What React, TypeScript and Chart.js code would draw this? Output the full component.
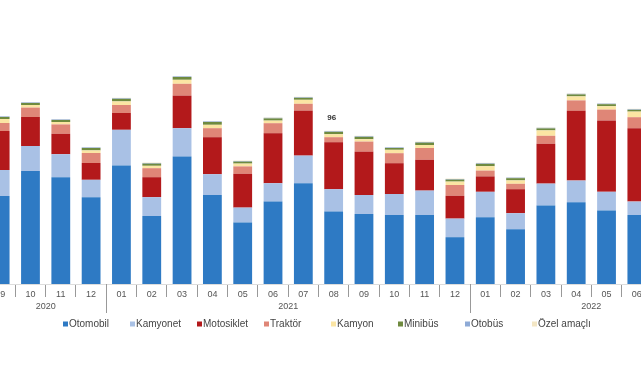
import React, { useEffect, useRef } from "react";
import { Chart, registerables } from "chart.js";

Chart.register(...registerables);

// Months shown (Sep 2020 – Jun 2022)
const months = [
  "09", "10", "11", "12",
  "01", "02", "03", "04", "05", "06", "07", "08", "09", "10", "11", "12",
  "01", "02", "03", "04", "05", "06",
];

// Year groups: first category index and number of months in the group
const yearLabels = ["2020", "2021", "2022"];
const yearStarts = [0, 4, 16];
const yearCounts = [4, 12, 8];

// Series values (thousand vehicles, estimated)
const otomobil = [44, 56.5, 53.4, 43.4, 59.2, 34, 63.7, 44.5, 30.7, 41.2, 50.4, 36.2, 35, 34.5, 34.5, 23.4, 33.4, 27.4, 39.2, 40.9, 36.7, 34.5];
const kamyonet = [13, 12.5, 11.5, 8.7, 17.9, 9.4, 14.2, 10.4, 7.5, 9.2, 13.8, 11.2, 9.5, 10.5, 12.2, 9.3, 12.7, 8, 11, 10.8, 9.4, 6.7];
const motosiklet = [19.5, 14.5, 10.2, 8.4, 8.4, 10, 16.3, 18.5, 16.9, 25, 22.5, 23.5, 21.7, 15.4, 15.4, 11.4, 7.7, 12, 19.9, 34.9, 35.7, 36.7];
const traktor = [4, 4.7, 4.7, 5, 4, 4.5, 5.9, 4.5, 3.7, 5, 3.4, 2.5, 5, 5, 5.9, 5.4, 2.9, 2.7, 4, 5.2, 5.4, 5.5];
const kamyon = [2, 1.3, 1.2, 1.3, 1.8, 1.2, 2, 1.7, 1.4, 1.3, 2, 1.5, 1.2, 1.7, 1.5, 1.7, 2.2, 1.7, 2.7, 2, 1.7, 2.8];
const minibus = [1, 1, 1, 1.2, 1.3, 1.1, 1.4, 1.4, 1, 1.1, 1, 1.2, 1.2, 0.9, 1.2, 1, 1.2, 1.1, 1, 1, 1, 0.9];
const otobus = [0.3, 0.3, 0.3, 0.3, 0.3, 0.3, 0.3, 0.3, 0.3, 0.3, 0.3, 0.3, 0.3, 0.3, 0.3, 0.3, 0.3, 0.3, 0.3, 0.3, 0.3, 0.3];
const ozelAmacli = [0.2, 0.2, 0.2, 0.2, 0.2, 0.2, 0.2, 0.2, 0.2, 0.2, 0.2, 0.2, 0.2, 0.2, 0.2, 0.2, 0.2, 0.2, 0.2, 0.2, 0.2, 0.2];

const seriesNames = ["Otomobil", "Kamyonet", "Motosiklet", "Traktör", "Kamyon", "Minibüs", "Otobüs", "Özel amaçlı"];
const seriesData = [otomobil, kamyonet, motosiklet, traktor, kamyon, minibus, otobus, ozelAmacli];
const seriesColors = ["#2e7ac4", "#a9c1e5", "#b3191b", "#df8677", "#fbe5a3", "#6f8a3f", "#8eaad6", "#f3e6c4"];

// Stray data label visible in the picture
const noteIndex = 11;
const noteText = "96";

const FONT = "'Liberation Sans', Arial, sans-serif";

const extrasPlugin = {
  id: "extras",
  afterDraw(chart: any) {
    const ctx = chart.ctx;
    const x = chart.scales.x;
    const area = chart.chartArea;
    const step = x.getPixelForValue(1) - x.getPixelForValue(0);
    ctx.save();

    // year separators
    ctx.strokeStyle = "#999";
    ctx.lineWidth = 1;
    for (let g = 1; g < yearStarts.length; g++) {
      const s = yearStarts[g];
      const px = Math.round((x.getPixelForValue(s - 1) + x.getPixelForValue(s)) / 2) + 0.5;
      ctx.beginPath();
      ctx.moveTo(px, area.bottom);
      ctx.lineTo(px, area.bottom + 29);
      ctx.stroke();
    }

    // year labels
    ctx.fillStyle = "#555";
    ctx.font = `9px ${FONT}`;
    ctx.textAlign = "center";
    ctx.textBaseline = "middle";
    for (let g = 0; g < yearLabels.length; g++) {
      const cx = x.getPixelForValue(yearStarts[g]) + ((yearCounts[g] - 1) * step) / 2;
      ctx.fillText(yearLabels[g], cx, area.bottom + 23);
    }

    // note label above bar
    const lastMeta = chart.getDatasetMeta(chart.data.datasets.length - 1);
    const bar = lastMeta.data[noteIndex];
    if (bar) {
      ctx.fillStyle = "#333";
      ctx.font = `bold 8px ${FONT}`;
      ctx.fillText(noteText, bar.x - 2, bar.y - 13);
    }

    // legend
    const spacing = 67;
    const lastW = 42;
    const total = spacing * (seriesNames.length - 1) + lastW;
    let lx = chart.width / 2 - total / 2;
    const ly = area.bottom + 40;
    ctx.font = `10px ${FONT}`;
    ctx.textAlign = "left";
    chart.data.datasets.forEach((ds: any) => {
      ctx.fillStyle = ds.backgroundColor;
      ctx.fillRect(lx, ly - 2.5, 5, 5);
      ctx.fillStyle = "#444";
      ctx.fillText(ds.label, lx + 6, ly);
      lx += spacing;
    });

    ctx.restore();
  },
};

export default function App() {
  const ref = useRef<HTMLCanvasElement | null>(null);

  useEffect(() => {
    if (!ref.current) return;
    const chart = new Chart(ref.current, {
      type: "bar",
      data: {
        labels: months,
        datasets: seriesNames.map((name, i) => ({
          label: name,
          data: seriesData[i],
          backgroundColor: seriesColors[i],
          borderWidth: 0,
          barPercentage: 0.62,
          categoryPercentage: 1,
        })),
      },
      options: {
        responsive: false,
        animation: false,
        devicePixelRatio: 1,
        layout: { padding: 0 },
        plugins: {
          legend: { display: false },
          tooltip: { enabled: false },
          title: { display: false },
        },
        scales: {
          x: {
            stacked: true,
            offset: true,
            grid: {
              offset: true,
              drawOnChartArea: false,
              drawTicks: true,
              tickLength: 13,
              color: "#999",
            },
            border: { display: true, color: "#ddd" },
            ticks: {
              color: "#555",
              font: { size: 9, family: FONT },
              padding: -8,
              maxRotation: 0,
              autoSkip: false,
            },
            afterFit: (scale: any) => {
              scale.height = 96;
            },
          },
          y: {
            stacked: true,
            display: false,
            min: 0,
            max: 142,
          },
        },
      },
      plugins: [extrasPlugin],
    });
    return () => chart.destroy();
  }, []);

  return (
    <div
      style={{
        position: "fixed",
        left: 0,
        top: 0,
        width: 641,
        height: 380,
        overflow: "hidden",
        background: "#fff",
      }}
    >
      <div style={{ position: "absolute", left: -15, top: 0, width: 667, height: 380 }}>
        <canvas ref={ref} width={667} height={380} />
      </div>
    </div>
  );
}
